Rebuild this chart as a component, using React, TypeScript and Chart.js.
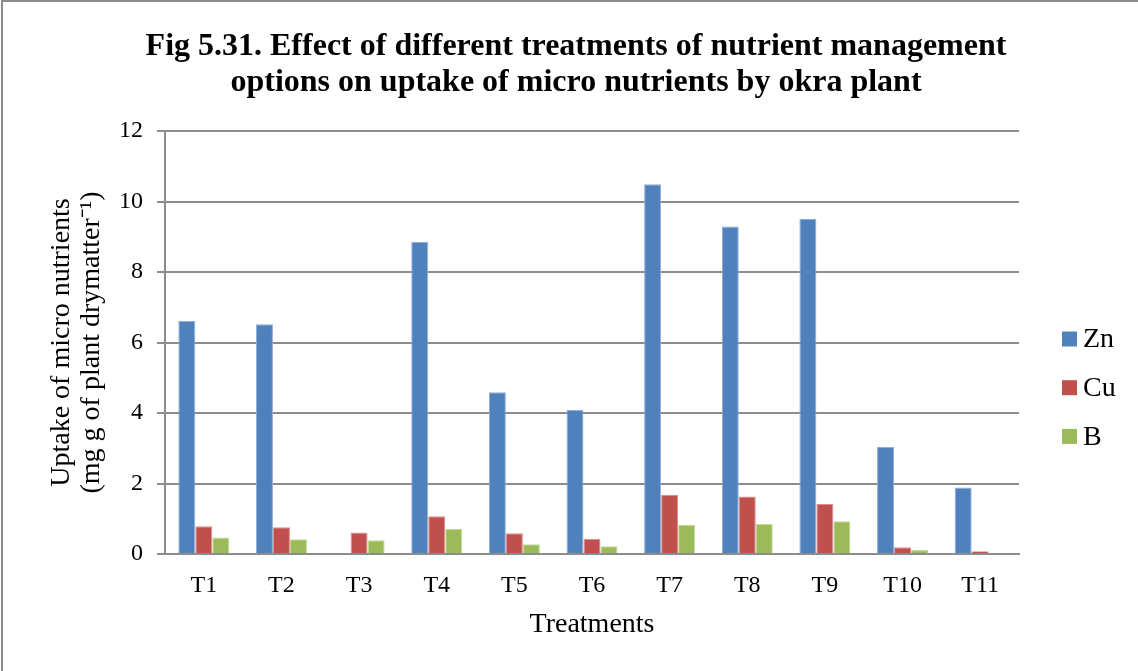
import React, { useEffect, useRef } from "react";
import { Chart, registerables } from "chart.js";

Chart.register(...registerables);

const categories = ["T1", "T2", "T3", "T4", "T5", "T6", "T7", "T8", "T9", "T10", "T11"];
const znValues = [6.62, 6.52, null, 8.86, 4.59, 4.09, 10.49, 9.29, 9.51, 3.04, 1.89];
const cuValues = [0.79, 0.76, 0.61, 1.07, 0.59, 0.43, 1.68, 1.63, 1.42, 0.19, 0.08];
const bValues = [0.47, 0.42, 0.39, 0.71, 0.28, 0.22, 0.83, 0.85, 0.93, 0.11, 0.02];
const seriesNames = ["Zn", "Cu", "B"];
const yTicks = [0, 2, 4, 6, 8, 10, 12];
const titleLines = [
  "Fig 5.31. Effect of different treatments of nutrient management",
  "options on uptake of micro nutrients by okra plant",
];
const yTitleLines = ["Uptake of micro nutrients", "(mg g of plant drymatter\u207B\u00B9)"];
const xTitle = "Treatments";

const SERIF = "'Liberation Serif', 'Times New Roman', serif";
const GRID = "#8c8c8c";

const sideLegend = {
  id: "sideLegend",
  afterDraw(chart: any) {
    const ctx = chart.ctx;
    const x0 = chart.chartArea.right + 43;
    const yStart = 339;
    const step = 48.7;
    ctx.save();
    ctx.font = `28px ${SERIF}`;
    ctx.textBaseline = "middle";
    ctx.textAlign = "left";
    chart.data.datasets.forEach((ds: any, i: number) => {
      const yc = yStart + i * step;
      ctx.fillStyle = ds.backgroundColor;
      ctx.fillRect(x0, yc - 7.5, 15, 15);
      ctx.fillStyle = "#000";
      ctx.fillText(ds.label, x0 + 21, yc + 1);
    });
    ctx.restore();
  },
};

export default function App() {
  const ref = useRef<HTMLCanvasElement | null>(null);
  useEffect(() => {
    if (!ref.current) return;
    const chart = new Chart(ref.current, {
      type: "bar",
      data: {
        labels: categories,
        datasets: [
          { label: seriesNames[0], data: znValues, backgroundColor: "#4F81BD", borderColor: "#8FADD6", borderWidth: 1 },
          { label: seriesNames[1], data: cuValues, backgroundColor: "#C0504D", borderColor: "#DB8E8C", borderWidth: 1 },
          { label: seriesNames[2], data: bValues, backgroundColor: "#9BBB59", borderColor: "#C3D79B", borderWidth: 1 },
        ],
      },
      options: {
        responsive: false,
        animation: false,
        devicePixelRatio: 1,
        layout: { padding: { left: 14, right: 0, top: 0, bottom: 0 } },
        datasets: { bar: { categoryPercentage: 0.657, barPercentage: 1 } },
        plugins: {
          legend: { display: false },
          tooltip: { enabled: false },
          title: {
            display: true,
            text: titleLines,
            color: "#000",
            font: { family: SERIF, size: 32, weight: "bold", lineHeight: 1.125 },
            padding: { top: 29, bottom: 30 },
          },
        },
        scales: {
          x: {
            grid: { display: false, drawTicks: false },
            border: { display: true, color: GRID, width: 2 },
            ticks: { color: "#000", font: { family: SERIF, size: 24 }, padding: 17 },
            title: {
              display: true,
              text: xTitle,
              color: "#000",
              font: { family: SERIF, size: 28, lineHeight: 1.2 },
              padding: { top: 0, bottom: 30 },
            },
            afterFit: (s: any) => {
              s.height = 117;
            },
          },
          y: {
            min: 0,
            max: 12,
            afterBuildTicks: (s: any) => {
              s.ticks = yTicks.map((v) => ({ value: v }));
            },
            grid: { color: GRID, lineWidth: 2, tickLength: 8, drawTicks: true },
            border: { display: true, color: GRID, width: 2 },
            ticks: { color: "#000", font: { family: SERIF, size: 24 }, padding: 14 },
            title: {
              display: true,
              text: yTitleLines,
              color: "#000",
              font: { family: SERIF, size: 28, lineHeight: 30 / 28 },
              padding: { top: 33, bottom: 0 },
            },
            afterFit: (s: any) => {
              s.width = 151;
            },
          },
          yR: {
            type: "linear",
            position: "right",
            display: true,
            grid: { display: false, drawTicks: false },
            border: { display: false },
            ticks: { display: false },
            afterFit: (s: any) => {
              s.width = 119;
            },
          },
        },
      },
      plugins: [sideLegend],
    } as any);
    return () => chart.destroy();
  }, []);

  return (
    <div style={{ position: "absolute", left: 0, top: 0, width: 1138, height: 671, overflow: "hidden", background: "#fff" }}>
      <canvas ref={ref} width={1138} height={671} style={{ position: "absolute", left: 0, top: 0 }} />
      <div
        style={{
          position: "absolute",
          left: 1,
          top: 0,
          width: 1200,
          height: 700,
          borderLeft: "2px solid #8c8c8c",
          borderTop: "2px solid #8c8c8c",
          boxSizing: "border-box",
          pointerEvents: "none",
        }}
      />
    </div>
  );
}
